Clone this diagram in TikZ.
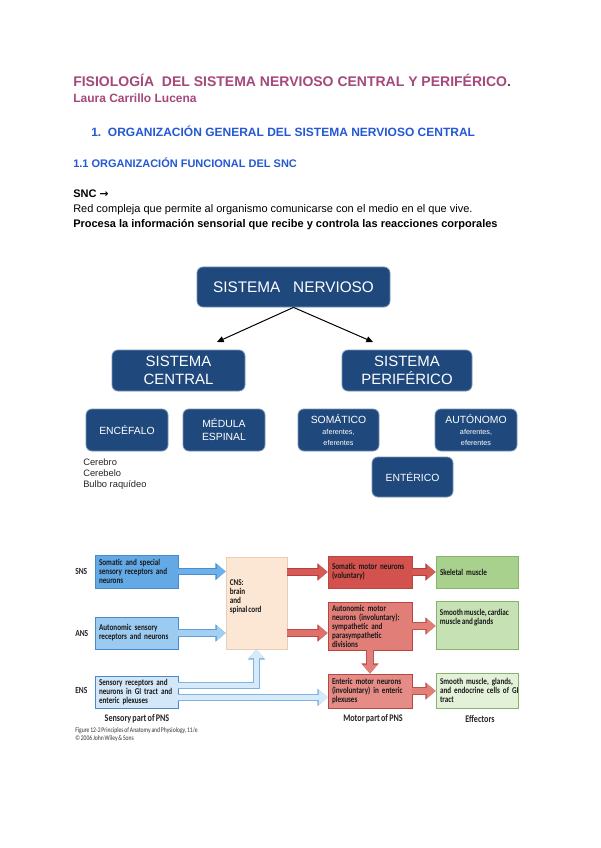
\documentclass[tikz,border=0pt]{standalone}
\usepackage{fontspec}
\setmainfont{Liberation Sans}
\newfontfamily\figfont[FakeStretch=0.8,WordSpace=0.65]{Carlito}
\newfontfamily\symfont{DejaVu Sans}
\usetikzlibrary{arrows.meta,shadows}
\definecolor{titlec}{HTML}{A5487A}
\definecolor{headc}{HTML}{2458D4}
\definecolor{boxc}{HTML}{1F497D}
\definecolor{boxe}{HTML}{7893B3}
\definecolor{snsf}{HTML}{63A9E6}
\definecolor{ansf}{HTML}{9CCBF2}
\definecolor{ensf}{HTML}{D3E7F8}
\definecolor{bedge}{HTML}{4A8ACB}
\definecolor{cnsf}{HTML}{FCE6D4}
\definecolor{cnse}{HTML}{E9CDB5}
\definecolor{somf}{HTML}{D4524D}
\definecolor{autf}{HTML}{E17E78}
\definecolor{entf}{HTML}{E58C86}
\definecolor{redge}{HTML}{B94540}
\definecolor{skf}{HTML}{A9D18E}
\definecolor{smcf}{HTML}{C6E1B3}
\definecolor{smgf}{HTML}{E3F1D8}
\definecolor{gedge}{HTML}{86B46A}
\definecolor{a1f}{HTML}{6DB1EC}\definecolor{a1e}{HTML}{4B8ED0}
\definecolor{a2f}{HTML}{A3CFF3}\definecolor{a2e}{HTML}{5F9ED8}
\definecolor{a3f}{HTML}{D6EAFA}\definecolor{a3e}{HTML}{7FB3E2}
\definecolor{r1f}{HTML}{D65A55}\definecolor{r1e}{HTML}{B53F3A}
\definecolor{r2f}{HTML}{DE716B}\definecolor{r2e}{HTML}{B94A45}
\definecolor{r3f}{HTML}{E27F79}\definecolor{r3e}{HTML}{BD534E}
\newcommand\subfs{\fontsize{5.4}{6.8}\selectfont}
\newcommand\fl[1]{\mbox{#1}}
\tikzset{
  txt/.style={inner sep=0pt, anchor=base west},
  dbox/.style={fill=boxc, draw=boxe, line width=0.6pt, rounded corners=4.5pt,
    text=white, align=center, inner sep=0pt},
  fb/.style={draw=#1, line width=0.6pt, inner xsep=3pt, inner ysep=0.5pt, align=left,
    font=\figfont\bfseries\fontsize{6.7}{6.75}\selectfont, text=black!90,
    drop shadow={shadow xshift=0.8pt, shadow yshift=-0.8pt, opacity=0.25}},
  fbt/.style={inner sep=0pt, align=left,
    font=\figfont\bfseries\fontsize{6.7}{6.75}\selectfont, text=black!90},
  flab/.style={inner sep=0pt, font=\figfont\bfseries\fontsize{7}{7.5}\selectfont, text=black!85},
  blk/.style 2 args={draw=#1, line width=4.2pt, -{Triangle[length=6.5pt,width=10.5pt]},
    preaction={draw=#2, line width=5.4pt, -{Triangle[length=7.6pt,width=12.5pt]}}},
  tarrow/.style={line width=0.75pt, -{Triangle[length=5pt,width=4.5pt]}}
}
\begin{document}
\begin{tikzpicture}[x=0.75pt,y=-0.75pt]
\fill[white] (0,0) rectangle (600,848);
\useasboundingbox (0,0) rectangle (600,848);
% ---------- header texts
\node[txt, text=titlec, font=\bfseries\fontsize{10.5}{12}\selectfont] (title) at (73,87)
  {FISIOLOGÍA\ \ DEL SISTEMA NERVIOSO CENTRAL Y PERIFÉRICO\textcolor{black!70}{.}};
\node[txt, text=titlec, font=\bfseries\fontsize{9}{11}\selectfont] (author) at (73,103)
  {Laura Carrillo Lucena};
\node[txt, text=headc, font=\bfseries\fontsize{9}{11}\selectfont] (h1) at (91,137)
  {1.\ \ ORGANIZACIÓN GENERAL DEL SISTEMA NERVIOSO CENTRAL};
\node[txt, text=headc, font=\bfseries\fontsize{8.25}{10}\selectfont] (h2) at (73,168)
  {1.1 ORGANIZACIÓN FUNCIONAL DEL SNC};
\node[txt, font=\bfseries\fontsize{8.25}{10}\selectfont] (snc) at (73,198) {SNC {\symfont\fontsize{8}{10}\selectfont →}};
\node[txt, font=\fontsize{8.25}{10}\selectfont] (p1) at (73,213)
  {Red compleja que permite al organismo comunicarse con el medio en el que vive.};
\node[txt, font=\bfseries\fontsize{8.25}{10}\selectfont] (p2) at (73,228)
  {Procesa la información sensorial que recibe y controla las reacciones corporales};
% ---------- concept diagram
\node[dbox, minimum width=144.75pt, minimum height=30pt, font=\fontsize{11.5}{13}\selectfont] (sn) at (293.5,287) {SISTEMA\ \ \ NERVIOSO};
\node[dbox, minimum width=99.75pt, minimum height=30.75pt, font=\fontsize{11.2}{14}\selectfont] (sc) at (178.5,370.5) {SISTEMA\\CENTRAL};
\node[dbox, minimum width=97.5pt, minimum height=30.75pt, font=\fontsize{11.2}{14}\selectfont] (sp) at (407,370.5) {SISTEMA\\PERIFÉRICO};
\coordinate (tl) at (217,342);
\coordinate (tr) at (373,342);
\draw[tarrow] (sn.south) -- (tl);
\draw[tarrow] (sn.south) -- (tr);
\node[dbox, minimum width=61.5pt, minimum height=31.5pt, font=\fontsize{7.8}{9.5}\selectfont] (enc) at (127,430) {ENCÉFALO};
\node[dbox, minimum width=61.5pt, minimum height=31.5pt, font=\fontsize{7.8}{9.75}\selectfont] (med) at (224,430) {MÉDULA\\ESPINAL};
\node[dbox, minimum width=60.75pt, minimum height=31.5pt, font=\fontsize{7.8}{8}\selectfont] (soma) at (338.5,430)
  {SOMÁTICO\\[0.5pt]\subfs aferentes,\\\subfs eferentes};
\node[dbox, minimum width=61.5pt, minimum height=31.5pt, font=\fontsize{7.8}{8}\selectfont] (auto) at (476,430)
  {AUTÓNOMO\\[0.5pt]\subfs aferentes,\\\subfs eferentes};
\node[dbox, minimum width=60.75pt, minimum height=30pt, font=\fontsize{7.8}{9.5}\selectfont] (ente) at (412.5,477) {ENTÉRICO};
\node[inner sep=0pt, anchor=north west, align=left, text=black!85, font=\fontsize{7}{8.6}\selectfont] (list) at (83,458)
  {Cerebro\\Cerebelo\\Bulbo raquídeo};
% ---------- figure boxes
\node[fb=bedge, fill=snsf, text width=56.25pt, minimum height=24.75pt] (sns) at (136.5,571.5)
  {\fl{Somatic and special}\\\fl{sensory receptors and}\\\fl{neurons}};
\node[fb=bedge, fill=ansf, text width=56.25pt, minimum height=24pt] (ans) at (136.5,633)
  {\fl{Autonomic sensory}\\\fl{receptors and neurons}};
\node[fb=bedge, fill=ensf, text width=56.25pt, minimum height=24pt] (ens) at (136.5,692)
  {\fl{Sensory receptors and}\\\fl{neurons in GI tract and}\\\fl{enteric plexuses}};
\node[fb=cnse, fill=cnsf, minimum width=45.75pt, minimum height=69pt] (cns) at (256.5,603) {};
\node[fbt, anchor=north west] (cnst) at ([xshift=3pt,yshift=-17pt]cns.north west)
  {CNS:\\brain\\and\\spinal cord};
\node[fb=redge, fill=somf, text width=57pt, minimum height=24pt] (som) at (370,572)
  {\fl{Somatic motor neurons}\\\fl{(voluntary)}};
\node[fb=redge, fill=autf, text width=57pt, minimum height=36pt] (aut) at (370,626)
  {\fl{Autonomic motor}\\\fl{neurons (involuntary):}\\\fl{sympathetic and}\\\fl{parasympathetic}\\\fl{divisions}};
\node[fb=redge, fill=entf, text width=57pt, minimum height=25.5pt] (ent) at (370,691)
  {\fl{Enteric motor neurons}\\\fl{(involuntary) in enteric}\\\fl{plexuses}};
\node[fb=gedge, fill=skf, text width=55.5pt, minimum height=24pt] (skel) at (477,572)
  {\fl{Skeletal muscle}};
\node[fb=gedge, fill=smcf, minimum width=61.5pt, minimum height=36pt] (smc) at (477,625) {};
\node[fbt, anchor=north west] (smct) at ([xshift=3pt,yshift=-6pt]smc.north west)
  {Smooth muscle, cardiac\\muscle and glands};
\node[fb=gedge, fill=smgf, text width=55.5pt, minimum height=26.25pt] (smg) at (477,690.5)
  {\fl{Smooth muscle, glands,}\\\fl{and endocrine cells of GI}\\\fl{tract}};
% ---------- figure side labels
\node[flab, anchor=west] (lsns) at (75,571.5) {SNS};
\node[flab, anchor=west] (lans) at (75,633) {ANS};
\node[flab, anchor=west] (lens) at (75,690) {ENS};
\node[flab, font=\figfont\bfseries\fontsize{7.6}{8}\selectfont] (lsp) at (137,719) {Sensory part of PNS};
\node[flab, font=\figfont\bfseries\fontsize{7.6}{8}\selectfont] (lmp) at (373,719) {Motor part of PNS};
\node[flab, font=\figfont\bfseries\fontsize{7.6}{8}\selectfont] (lef) at (480,719) {Effectors};
\node[inner sep=0pt, anchor=north west, align=left, text=black!80, font=\figfont\fontsize{5.3}{6.6}\selectfont] (cap) at (75,727)
  {Figure 12-2 Principles of Anatomy and Physiology, 11/e\\© 2006 John Wiley \& Sons};
% ---------- figure arrows
\draw[blk={a1f}{a1e}] (sns.east) -- (sns.east -| cns.west);
\draw[blk={a2f}{a2e}] (ans.east) -- (ans.east -| cns.west);
\draw[blk={a3f}{a3e}] ([yshift=5pt]ens.east) -| (cns.south);
\draw[blk={a3f}{a3e}] ([yshift=-4pt]ens.east) -- ([yshift=-4pt]ens.east -| ent.west);
\draw[blk={r1f}{r1e}] (som.west -| cns.east) -- (som.west);
\draw[blk={r2f}{r2e}] (ans.east -| cns.east) -- (ans.east -| aut.west);
\draw[blk={r3f}{r3e}] (aut.south) -- (ent.north);
\draw[blk={r1f}{r1e}] (som.east) -- (skel.west);
\draw[blk={r3f}{r3e}] (aut.east) -- (aut.east -| smc.west);
\draw[blk={r3f}{r3e}] (ent.east) -- (ent.east -| smg.west);
\end{tikzpicture}
\end{document}
